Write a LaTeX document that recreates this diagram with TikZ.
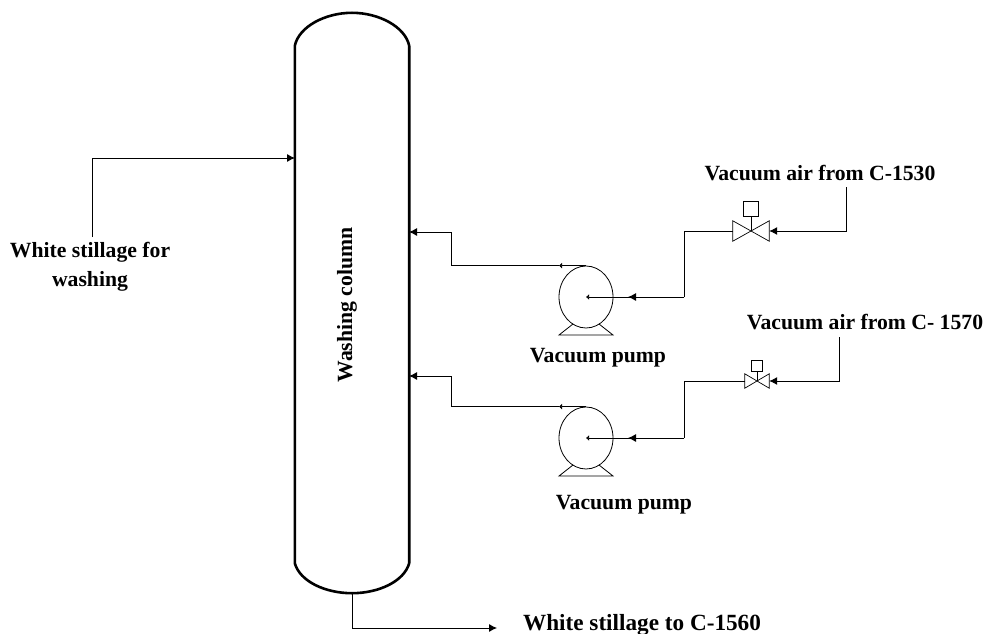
\documentclass[tikz,border=0pt]{standalone}
\usepackage{fontspec}
\setmainfont{Liberation Serif}
\usetikzlibrary{calc,arrows.meta,shapes.geometric}

\begin{document}
\begin{tikzpicture}[x=1pt,y=-1pt]
\tikzstyle{pipe} = [line width=0.9pt];
\tikzstyle{flow} = [pipe,-{Latex[length=8pt,width=8pt]}];
\tikzstyle{tick} = [pipe,-{Latex[length=3pt,width=6pt]}];
\tikzstyle{pump} = [ellipse,draw,line width=0.8pt,minimum width=54pt,minimum height=62pt,inner sep=0pt];
\tikzstyle{lbl} = [font=\fontsize{21.7}{25}\selectfont\bfseries,inner sep=0pt];

    \useasboundingbox (0,0) rectangle (985,634);

    % column
    \node (col) at (352,303) [minimum width=114pt,minimum height=580pt,inner sep=0pt] {};
    \draw[line width=2.6pt,line join=round] ($(col.north west)+(0,33)$)
        .. controls ($(col.north west)+(4,14)$) and ($(col.north)+(-27,0)$) .. (col.north)
        .. controls ($(col.north)+(27,0)$) and ($(col.north east)+(-4,14)$) .. ($(col.north east)+(0,33)$)
        -- ($(col.south east)+(0,-30)$)
        .. controls ($(col.south east)+(-5,-12)$) and ($(col.south)+(27,0)$) .. (col.south)
        .. controls ($(col.south)+(-27,0)$) and ($(col.south west)+(5,-12)$) .. ($(col.south west)+(0,-30)$)
        -- cycle;
    \node (name) at (347,305) [lbl,rotate=90] {Washing column};

    % pumps and valves
    \foreach \i/\yp/\xv/\yv/\xs/\ys/\w/\h/\yc in {1/297/751/231/846/187/36/20/232, 2/438/757/381/839/337/24/14/376} {
        \node (p\i) at (586,\yp) [pump] {};
        \draw[line width=0.8pt] ($(p\i)+(-13,27)$) -- ($(p\i)+(-27,38)$) -- ($(p\i)+(27,38)$) -- ($(p\i)+(13,27)$);
        \node (v\i) at (\xv,\yv) [minimum width=\w pt,minimum height=\h pt,inner sep=0pt] {};
        \draw[line width=0.7pt] (v\i.south west) -- (v\i.north east) -- (v\i.south east) -- (v\i.north west) -- cycle;
        \node (a\i) at ($(v\i)+(0,-\h*1.1)$) [draw,line width=0.7pt,minimum width=\h*0.75pt,minimum height=\h*0.75pt,inner sep=0pt] {};
        \draw[line width=0.7pt] (a\i) -- (v\i.center);
        \coordinate (s\i) at (\xs,\ys);
        \coordinate (d\i) at (684,\yp);
        \coordinate (m\i) at (628,\yp);
        \coordinate (n\i) at ($(p\i.north)+(-27,0)$);
        \coordinate (b\i) at (451,\yc);
        \coordinate (c\i) at (409,\yc);
        \draw[flow] (s\i) |- (v\i.east);
        \draw[pipe] (v\i.west) -| (d\i);
        \draw[tick] (d\i) -- (p\i.center);
        \draw[flow] (d\i) -- (m\i);
        \draw[tick] (p\i.north) -- (n\i);
        \draw[flow] (n\i) -| (b\i) -- (c\i);
    }

    % feed and bottoms
    \coordinate (in) at (92,237);
    \coordinate (ina) at (295,158);
    \coordinate (out) at (497,628);
    \draw[flow] (in) |- (ina);
    \draw[flow] (col.south) |- (out);

    % labels
    \node (wsa) at (90,252) [lbl] {White stillage for};
    \node (wsb) at (90,281) [lbl] {washing};
    \node (va) at (820,173) [lbl] {Vacuum air from C-1530};
    \node (vb) at (865,322) [lbl] {Vacuum air from C- 1570};
    \node (pa) at (598,358) [lbl] {Vacuum pump};
    \node (pb) at (624,505) [lbl] {Vacuum pump};
    \node (wo) at (642,625) [lbl,font=\fontsize{23.2}{25}\selectfont\bfseries] {White stillage to C-1560};

\end{tikzpicture}
\end{document}
